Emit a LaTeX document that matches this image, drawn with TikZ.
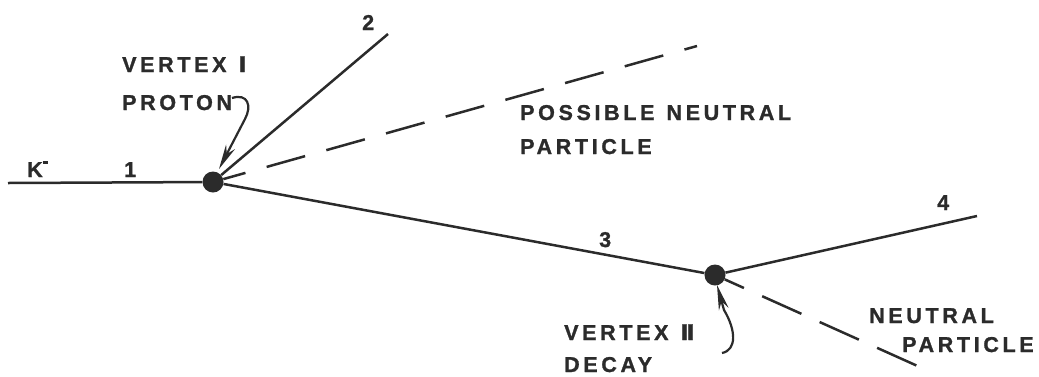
\documentclass[tikz,border=0pt]{standalone}
\usepackage{fontspec}
\usetikzlibrary{arrows.meta}
\newfontfamily\lblfam{Liberation Sans}[LetterSpace=17,FakeBold=1.2]
\newfontfamily\romfam{DejaVu Sans}[FakeBold=1.2]
\tikzset{
  lbl/.style={font=\lblfam\bfseries\fontsize{21.5}{26}\selectfont, inner sep=0pt, anchor=base west, text=ink},
  track/.style={draw=ink, line width=2.5pt},
  neutral/.style={draw=ink, line width=2.5pt, dash pattern=on 40pt off 22pt},
  vdot/.style={circle, fill=ink, minimum size=21pt, inner sep=0pt},
  pointer/.style={draw=ink, line width=2.2pt, -{Stealth[length=25pt,width=10pt]}}
}
\definecolor{ink}{HTML}{2B2B2B}
\newcommand{\rmI}{{\romfam\bfseries Ⅰ}}
\newcommand{\rmII}{{\romfam\bfseries Ⅱ}}
\newcommand{\wgap}{\hspace*{12pt}}
\begin{document}
\begin{tikzpicture}[x=1pt,y=-1pt]
\useasboundingbox (0,0) rectangle (1039,376);
% vertices
\node[vdot] (v1) at (213,182) {};
\node[vdot] (v2) at (715,275) {};
% free track ends
\coordinate (k0) at (8,183);
\coordinate (e2) at (388,34);
\coordinate (e4) at (977,216);
\coordinate (n1) at (697,46);
\coordinate (n2) at (922,368);
% tracks
\draw[track] (k0) -- (v1);
\draw[track] (v1) -- (e2);
\draw[track] (v1) -- (v2);
\draw[track] (v2) -- (e4);
\draw[neutral, dash phase=17pt] (v1) -- (n1);
\draw[neutral, dash pattern=on 43pt off 20pt, dash phase=22pt] (v2) -- (n2);
% labels
\node[lbl] (lk) at (27,177) {K\raisebox{0.62em}{\rule{5pt}{2.2pt}}};
\node[lbl] (l1) at (124,177) {1};
\node[lbl] (l2) at (362,30) {2};
\node[lbl] (l3) at (599,247) {3};
\node[lbl] (l4) at (937,210) {4};
\node[lbl] (vtx1) at (122,72) {VERTEX\wgap\rmI};
\node[lbl] (prot) at (122,110) {PROTON};
\node[lbl] (pos) at (520,120) {POSSIBLE\wgap NEUTRAL};
\node[lbl] (par1) at (520,154) {PARTICLE};
\node[lbl] (vtx2) at (564,340) {VERTEX\wgap\rmII};
\node[lbl] (dec) at (564,372) {DECAY};
\node[lbl] (neu) at (869,323) {NEUTRAL};
\node[lbl] (par2) at (902,352) {PARTICLE};
% pointers
\coordinate (h1) at (232,98);
\coordinate (h2) at (722,353);
\draw[pointer] (h1) .. controls (248,93) and (252,106) .. (245,119) -- (219,169);
\draw[pointer] (h2) .. controls (737,350) and (736,330) .. (724,310) -- (717,285);
\end{tikzpicture}
\end{document}
